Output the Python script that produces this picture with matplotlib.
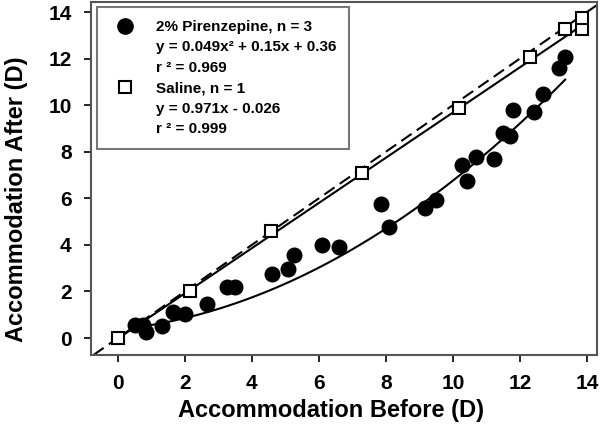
import numpy as np
import matplotlib.pyplot as plt
from matplotlib.lines import Line2D

plt.rcParams['font.family'] = ['Liberation Sans', 'DejaVu Sans']
plt.rcParams['font.weight'] = 'bold'

# 2% pirenzepine (filled circles)
pir_before = [0.52, 0.75, 0.85, 1.31, 1.64, 2.0, 2.66, 3.25, 3.49, 4.6, 5.07, 5.25,
              6.09, 6.6, 7.85, 8.09, 9.16, 9.49, 10.27, 10.42, 10.69, 11.22, 11.49,
              11.7, 11.79, 12.42, 12.69, 13.16, 13.35]
pir_after = [0.55, 0.57, 0.27, 0.52, 1.12, 1.03, 1.46, 2.19, 2.19, 2.75, 2.96, 3.56,
             3.99, 3.9, 5.75, 4.76, 5.58, 5.92, 7.42, 6.74, 7.77, 7.68, 8.8,
             8.67, 9.79, 9.7, 10.47, 11.6, 12.05]
pir_coef = [0.049, 0.15, 0.36]
pir_range = [0.5, 13.35]

# saline (open squares)
sal_before = [0, 2.15, 4.57, 7.28, 10.18, 12.3, 13.34, 13.85, 13.85]
sal_after = [0, 2.02, 4.59, 7.08, 9.87, 12.06, 13.26, 13.26, 13.73]
sal_coef = [0.971, -0.026]
sal_range = [0, 13.85]

legend_labels = ['2% Pirenzepine, n = 3', 'y = 0.049x\u00b2 + 0.15x + 0.36', 'r \u00b2 = 0.969',
                 'Saline, n = 1', 'y = 0.971x - 0.026', 'r \u00b2 = 0.999']

fig = plt.figure(figsize=(6, 4.45), dpi=100)
ax = fig.add_axes([0.1517, 0.2022, 0.8433, 0.7933])

# identity line
ax.axline((0, 0), slope=1, color='black', lw=1.5, ls=(0, (6, 3)), zorder=1)

xs = np.linspace(sal_range[0], sal_range[1], 50)
ax.plot(xs, np.polyval(sal_coef, xs), color='black', lw=1.5, zorder=2)
xp = np.linspace(pir_range[0], pir_range[1], 100)
ax.plot(xp, np.polyval(pir_coef, xp), color='black', lw=1.5, zorder=2)

ax.plot(pir_before, pir_after, 'o', color='black', ms=10.5, zorder=3)
ax.plot(sal_before, sal_after, 's', mfc='white', mec='black', mew=1.5, ms=9, zorder=3)

ax.set_xlim(-0.8, 14.3)
ax.set_ylim(-0.73, 14.43)
ax.set_xticks(range(0, 15, 2))
ax.set_yticks(range(0, 15, 2))
ax.tick_params(axis='x', direction='out', length=5, width=1.2, pad=9, labelsize=15)
ax.tick_params(axis='y', direction='out', length=5, width=1.2, pad=9, labelsize=15)
for s in ax.spines.values():
    s.set_color('#555555')
    s.set_linewidth(1.5)

ax.set_xlabel('Accommodation Before (D)', fontsize=17, fontweight='bold')
ax.set_ylabel('Accommodation After (D)', fontsize=17, fontweight='bold')
ax.xaxis.set_label_coords(0.474, -0.125)
ax.yaxis.set_label_coords(-0.125, 0.44)

blank = Line2D([], [], ls='none')
handles = [Line2D([], [], ls='none', marker='o', color='black', ms=11), blank, blank,
           Line2D([], [], ls='none', marker='s', mfc='white', mec='black', mew=1.5, ms=9), blank, blank]
leg = ax.legend(handles, legend_labels, loc='upper left', bbox_to_anchor=(0.012, 0.986),
                frameon=True, fancybox=False, fontsize=11, labelspacing=0.42,
                handlelength=2.0, handletextpad=1.0, borderpad=0.85, borderaxespad=0)
leg.get_frame().set_edgecolor('#555555')
leg.get_frame().set_linewidth(1.5)
for t in leg.get_texts():
    t.set_fontweight('bold')

fig.savefig('out.png', dpi=100)
